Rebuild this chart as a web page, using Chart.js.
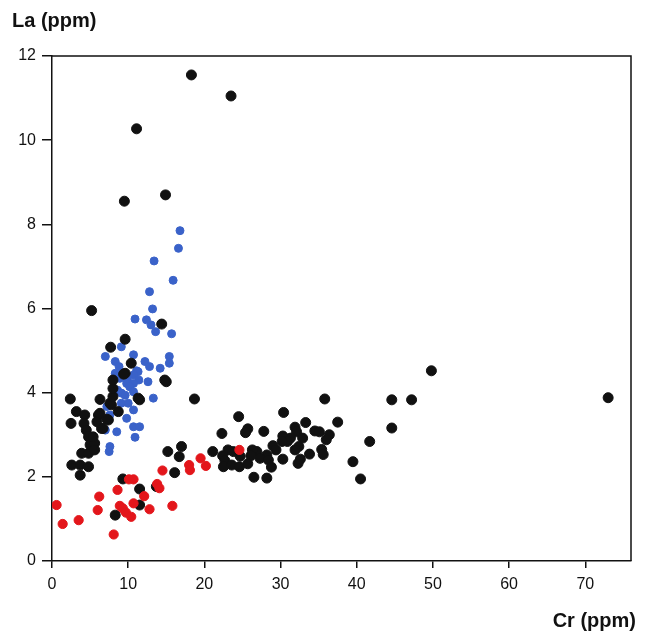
<!DOCTYPE html>
<html><head><meta charset="utf-8">
<script src="https://cdn.jsdelivr.net/npm/chart.js@4/dist/chart.umd.min.js"></script>
<style>html,body{margin:0;padding:0;background:#fff}#wrap{width:650px;height:635px;position:relative}</style>
</head><body><div id="wrap"><canvas id="c"></canvas></div>
<script>
// [Cr (ppm), La (ppm)]
const blackPoints = [
 [18.3,11.55],[23.5,11.05],[11.1,10.27],[14.9,8.7],[9.5,8.55],[5.2,5.95],[14.4,5.63],
 [73.0,3.88],[49.8,4.52],[47.2,3.83],[44.6,3.83],[44.6,3.16],[41.7,2.84],[39.5,2.36],[40.5,1.95],
 [18.7,3.85],[35.8,3.85],[24.5,3.43],[30.4,3.53],[37.5,3.30],[33.3,3.29],[25.7,3.14],[25.4,3.05],
 [27.8,3.08],[22.3,3.03],[31.9,3.18],[32.1,3.07],[34.5,3.09],[35.1,3.07],[36.4,3.00],[36.0,2.88],
 [32.9,2.92],[31.3,2.92],[30.3,2.97],[30.9,2.84],[32.4,2.72],[31.9,2.64],[30.2,2.84],[29.0,2.74],
 [29.4,2.64],[28.2,2.52],[26.9,2.60],[26.3,2.64],[26.1,2.50],[24.7,2.49],[23.8,2.60],[23.1,2.64],
 [22.4,2.50],[21.1,2.60],[22.7,2.38],[22.5,2.24],[23.6,2.28],[24.6,2.24],[25.7,2.31],[27.3,2.44],
 [28.4,2.40],[28.8,2.23],[30.3,2.42],[32.3,2.32],[32.6,2.42],[33.8,2.54],[35.4,2.65],[35.6,2.53],
 [26.5,1.99],[28.2,1.97],[17.0,2.72],[16.7,2.48],[15.2,2.60],[16.1,2.10],
 [2.4,3.85],[3.2,3.55],[4.3,3.47],[2.5,3.27],[4.2,3.27],[4.5,3.11],[4.8,2.95],[5.0,2.76],[5.6,2.80],
 [3.9,2.56],[4.8,2.56],[2.6,2.28],[3.7,2.28],[4.8,2.24],[3.7,2.04],[5.6,2.64],[6.3,3.84],[6.1,3.47],
 [7.4,3.35],[6.5,3.15],[5.9,3.31],[6.7,3.15],[5.4,2.95],[7.2,3.37],[7.8,3.71],[8.7,3.55],[6.3,3.51],
 [7.6,3.75],[8.0,3.91],[11.5,3.83],[8.0,4.10],[8.0,4.30],[9.6,4.46],[10.4,4.70],[14.8,4.30],[15.0,4.26],
 [9.4,4.44],[7.7,5.08],[9.6,5.27],[11.3,3.87],[9.3,1.95],[11.5,1.71],[11.5,1.33],[8.3,1.09],[13.7,1.77]
];
const bluePoints = [
 [16.8,7.85],[16.6,7.43],[13.4,7.13],[15.9,6.67],[12.8,6.40],[13.2,5.99],[10.9,5.75],[12.4,5.73],
 [13.0,5.61],[13.6,5.45],[15.7,5.40],[9.1,5.09],[7.0,4.86],[8.3,4.74],[8.8,4.62],[10.7,4.90],[12.2,4.74],
 [12.8,4.62],[14.2,4.58],[15.4,4.86],[15.4,4.70],[11.1,4.52],[11.3,4.50],[8.3,4.46],[8.9,4.34],[10.7,4.42],
 [9.9,4.30],[11.4,4.30],[12.6,4.26],[9.8,4.22],[10.7,4.22],[8.6,4.06],[10.2,4.14],[9.1,3.99],[10.7,4.02],
 [9.6,3.94],[13.3,3.87],[9.1,3.75],[10.0,3.75],[10.7,3.59],[7.6,3.47],[7.2,3.67],[9.8,3.39],[10.7,3.19],
 [11.5,3.19],[8.5,3.07],[7.0,3.11],[10.9,2.94],[7.6,2.72],[7.5,2.60]
];
const redPoints = [
 [0.6,1.33],[1.4,0.88],[3.5,0.97],[6.2,1.53],[6.0,1.21],[8.1,0.63],[8.6,1.69],[10.1,1.94],[10.7,1.94],
 [8.9,1.31],[9.3,1.25],[9.7,1.15],[10.4,1.05],[10.7,1.37],[12.1,1.54],[12.8,1.23],[13.8,1.83],[14.1,1.73],
 [14.5,2.15],[15.8,1.31],[18.0,2.28],[18.1,2.16],[19.5,2.44],[20.2,2.26],[24.6,2.64]
];
const xTicks = [0,10,20,30,40,50,60,70];
const yTicks = [0,2,4,6,8,10,12];
const xTitle = 'Cr (ppm)';
const yTitle = 'La (ppm)';

const toXY = arr => arr.map(p => ({x:p[0], y:p[1]}));
const ink = '#111';
const FONT = '"Liberation Sans", Arial, sans-serif';

const frame = {
  id:'frame',
  afterDatasetsDraw(chart){
    const {ctx, chartArea:a} = chart;
    ctx.save();
    ctx.strokeStyle = ink; ctx.lineWidth = 1.5;
    ctx.beginPath();
    ctx.moveTo(a.left, a.top); ctx.lineTo(a.right, a.top); ctx.lineTo(a.right, a.bottom);
    ctx.stroke();
    ctx.restore();
  },
  afterDraw(chart){
    const {ctx, chartArea:a} = chart;
    ctx.save();
    ctx.fillStyle = ink;
    ctx.font = 'bold 20px ' + FONT;
    ctx.textBaseline = 'alphabetic';
    ctx.textAlign = 'left';
    ctx.fillText(yTitle, 12, 27);
    ctx.textAlign = 'right';
    ctx.fillText(xTitle, a.right + 5, 627);
    ctx.restore();
  }
};

new Chart(document.getElementById('c'), {
  type:'scatter',
  data:{datasets:[
    {label:'red', data:toXY(redPoints), backgroundColor:'#e3161b', borderColor:'#e3161b', pointRadius:4.6, order:0},
    {label:'black', data:toXY(blackPoints), backgroundColor:'#111111', borderColor:'#111111', pointRadius:5, order:1},
    {label:'blue', data:toXY(bluePoints), backgroundColor:'#3a62c9', borderColor:'#3a62c9', pointRadius:4, order:2}
  ]},
  options:{
    responsive:true, maintainAspectRatio:false, animation:false,
    layout:{padding:{left:10,right:19,top:56,bottom:0}},
    plugins:{ legend:{display:false}, tooltip:{enabled:false} },
    scales:{
      x:{type:'linear', min:0, max:76,
        afterBuildTicks(s){ s.ticks = xTicks.map(v => ({value:v})); },
        afterFit(s){ s.height = 74; },
        ticks:{color:ink, font:{family:FONT, size:16}, padding:7},
        grid:{drawOnChartArea:false, drawTicks:true, tickLength:7, color:ink, lineWidth:1.5},
        border:{color:ink, width:1.5}
      },
      y:{type:'linear', min:0, max:12,
        afterBuildTicks(s){ s.ticks = yTicks.map(v => ({value:v})); },
        afterFit(s){ s.width = 42; },
        ticks:{color:ink, font:{family:FONT, size:16}, padding:6},
        grid:{drawOnChartArea:false, drawTicks:true, tickLength:10, color:ink, lineWidth:1.5},
        border:{color:ink, width:1.5}
      }
    }
  },
  plugins:[frame]
});
</script></body></html>
